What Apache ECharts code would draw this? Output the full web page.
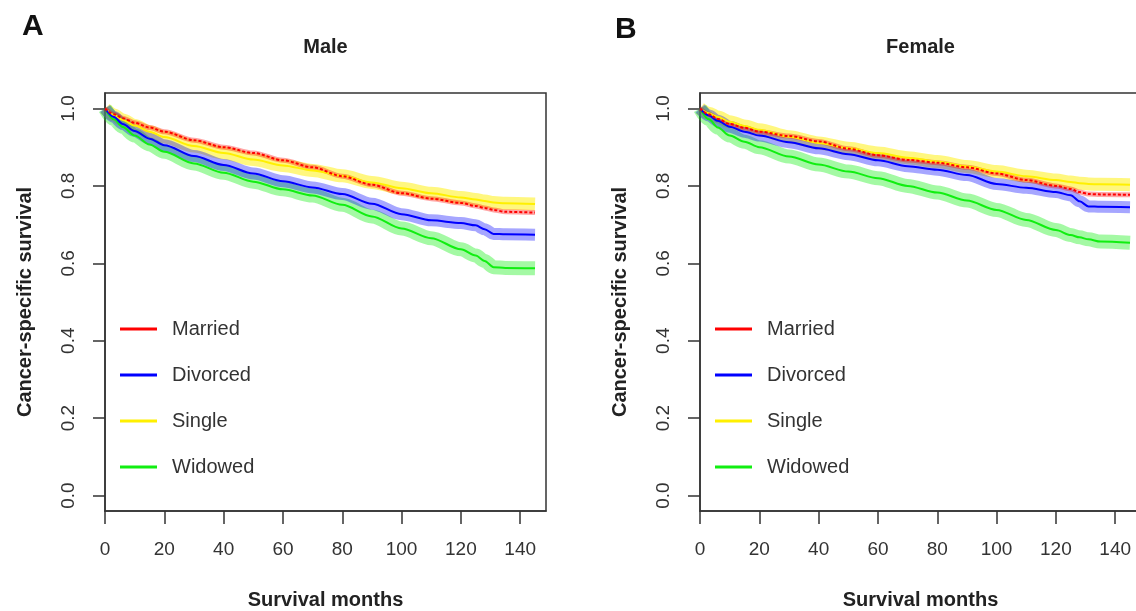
<!doctype html>
<html>

<head>
    <meta charset="utf-8">
    <title>Cancer-specific survival</title>
    <script type="text/javascript" src="https://cdn.jsdelivr.net/npm/echarts@6/dist/echarts.min.js"></script>
</head>

<body style="margin:0;padding:0;background:#fff">
    <div id="tb" style="width:1136px;height:611px"></div>
    <script>
        var months = [0, 3, 6, 10, 15, 20, 30, 40, 50, 60, 70, 80, 90, 100, 110, 120, 125, 128, 131, 135, 145];
        var groups = ['Married', 'Divorced', 'Single', 'Widowed'];
        var colors = ['#ff0000', '#0000ff', '#fff000', '#11ee11'];

        // Male
        var maleMarried = [1.0, 0.985, 0.975, 0.963, 0.951, 0.94, 0.918, 0.9, 0.885, 0.866, 0.848, 0.825, 0.803, 0.781, 0.767, 0.756, 0.748, 0.743, 0.738, 0.733, 0.731];
        var maleDivorced = [1.0, 0.978, 0.96, 0.942, 0.922, 0.905, 0.877, 0.854, 0.832, 0.812, 0.796, 0.779, 0.754, 0.727, 0.711, 0.704, 0.698, 0.688, 0.676, 0.675, 0.674];
        var maleSingle = [1.0, 0.983, 0.97, 0.956, 0.94, 0.926, 0.903, 0.885, 0.868, 0.853, 0.84, 0.826, 0.809, 0.794, 0.781, 0.77, 0.765, 0.761, 0.757, 0.755, 0.753];
        var maleWidowed = [1.0, 0.972, 0.952, 0.93, 0.907, 0.888, 0.858, 0.834, 0.811, 0.791, 0.775, 0.751, 0.721, 0.69, 0.665, 0.636, 0.62, 0.606, 0.59, 0.588, 0.587];

        // Female
        var femaleMarried = [1.0, 0.985, 0.973, 0.96, 0.95, 0.94, 0.929, 0.915, 0.896, 0.879, 0.867, 0.86, 0.848, 0.832, 0.815, 0.8, 0.792, 0.784, 0.779, 0.778, 0.777];
        var femaleDivorced = [1.0, 0.982, 0.968, 0.953, 0.94, 0.93, 0.913, 0.897, 0.882, 0.866, 0.851, 0.842, 0.828, 0.805, 0.795, 0.784, 0.776, 0.76, 0.747, 0.746, 0.745];
        var femaleSingle = [1.0, 0.988, 0.978, 0.966, 0.955, 0.945, 0.927, 0.911, 0.897, 0.885, 0.873, 0.863, 0.85, 0.837, 0.825, 0.815, 0.81, 0.807, 0.805, 0.804, 0.803];
        var femaleWidowed = [1.0, 0.972, 0.951, 0.93, 0.914, 0.9, 0.876, 0.855, 0.837, 0.82, 0.8, 0.783, 0.762, 0.738, 0.712, 0.686, 0.673, 0.667, 0.662, 0.656, 0.653];

        var xTicks = [0, 20, 40, 60, 80, 100, 120, 140];
        var yTicks = [0, 0.2, 0.4, 0.6, 0.8, 1.0];

        var panels = [
            [maleMarried, maleDivorced, maleSingle, maleWidowed],
            [femaleMarried, femaleDivorced, femaleSingle, femaleWidowed]
        ];

        var pairs = function (vals) {
            return months.map(function (m, i) { return [m, vals[i]]; });
        };

        // wide pale band = the censor "+" marks, thin line on top
        var bandWidth = [5, 12, 13, 14];
        var bandOpacity = [0.35, 0.35, 0.5, 0.38];
        var bandOrder = [2, 3, 1, 0];
        var series = [];
        panels.forEach(function (curves, p) {
            bandOrder.forEach(function (i) {
                series.push({
                    name: groups[i] + ' marks',
                    type: 'line',
                    xAxisIndex: p,
                    yAxisIndex: p,
                    showSymbol: false,
                    silent: true,
                    smooth: 0.3,
                    smoothMonotone: 'x',
                    lineStyle: { color: colors[i], width: bandWidth[i], opacity: bandOpacity[i] },
                    data: pairs(curves[i])
                });
            });
            bandOrder.forEach(function (i) {
                series.push({
                    name: groups[i],
                    type: 'line',
                    xAxisIndex: p,
                    yAxisIndex: p,
                    showSymbol: false,
                    smooth: 0.3,
                    smoothMonotone: 'x',
                    itemStyle: { color: colors[i] },
                    lineStyle: { color: colors[i], width: 2, type: i === 0 ? [3, 2] : 'solid' },
                    data: pairs(curves[i])
                });
            });
        });

        var axisColor = '#333';
        var gridLeft = [105, 700];

        var xAxis = gridLeft.map(function (l, p) {
            return {
                gridIndex: p,
                type: 'value',
                min: 0,
                max: 148.7,
                axisLine: { show: true, onZero: false, lineStyle: { color: axisColor, width: 1.5 } },
                axisTick: { show: true, length: 13, customValues: xTicks, lineStyle: { color: axisColor, width: 1.5 } },
                axisLabel: { customValues: xTicks, margin: 29, fontSize: 19, color: '#333' },
                splitLine: { show: false },
                name: 'Survival months',
                nameLocation: 'middle',
                nameGap: 79,
                nameTextStyle: { fontSize: 20, fontWeight: 'bold', color: '#222' }
            };
        });

        var yAxis = gridLeft.map(function (l, p) {
            return {
                gridIndex: p,
                type: 'value',
                min: -0.04,
                max: 1.04,
                axisLine: { show: true, onZero: false, lineStyle: { color: axisColor, width: 1.5 } },
                axisTick: { show: true, length: 12, customValues: yTicks, lineStyle: { color: axisColor, width: 1.5 } },
                axisLabel: {
                    customValues: yTicks,
                    rotate: 90,
                    margin: 27,
                    fontSize: 19,
                    color: '#333',
                    formatter: function (v) { return v.toFixed(1); }
                },
                splitLine: { show: false },
                name: 'Cancer-specific survival',
                nameLocation: 'middle',
                nameRotate: 90,
                nameGap: 70,
                nameTextStyle: { fontSize: 20, fontWeight: 'bold', color: '#222' }
            };
        });

        var chart = echarts.init(document.getElementById('tb'));
        chart.setOption({
            animation: false,
            backgroundColor: '#fff',
            textStyle: { fontFamily: 'Liberation Sans, Arial, sans-serif' },
            title: [
                { text: 'A', left: 22, top: 12, padding: 0, textStyle: { fontSize: 30, fontWeight: 'bold', color: '#111' } },
                { text: 'Male', left: 325.5, top: 37, padding: 0, textAlign: 'center', textStyle: { fontSize: 20, fontWeight: 'bold', color: '#222' } },
                { text: 'B', left: 615, top: 15, padding: 0, textStyle: { fontSize: 30, fontWeight: 'bold', color: '#111' } },
                { text: 'Female', left: 920.5, top: 37, padding: 0, textAlign: 'center', textStyle: { fontSize: 20, fontWeight: 'bold', color: '#222' } }
            ],
            grid: gridLeft.map(function (l) {
                return {
                    left: l, top: 93, width: 441, height: 418,
                    outerBoundsMode: 'none',
                    show: true, borderColor: axisColor, borderWidth: 1.5, backgroundColor: 'transparent'
                };
            }),
            legend: gridLeft.map(function (l) {
                return {
                    left: l + 15,
                    top: 319,
                    orient: 'vertical',
                    padding: 0,
                    itemGap: 26,
                    itemWidth: 37,
                    itemHeight: 3,
                    icon: 'rect',
                    selectedMode: false,
                    data: groups,
                    textStyle: { fontSize: 20, color: '#333', padding: [0, 0, 0, 10] }
                };
            }),
            xAxis: xAxis,
            yAxis: yAxis,
            series: series
        });
    </script>
</body>

</html>
